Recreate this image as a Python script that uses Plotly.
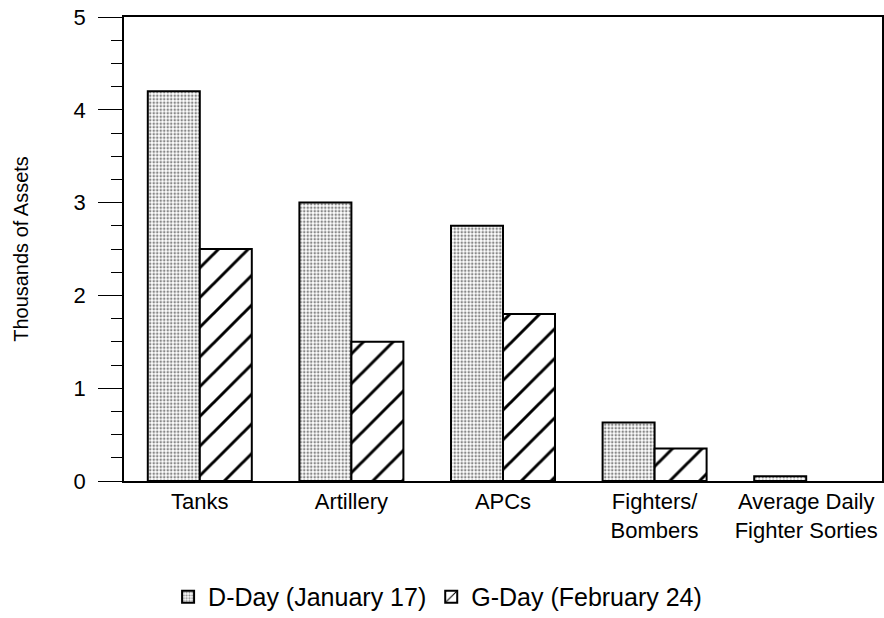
import plotly.graph_objects as go

categories = ["Tanks", "Artillery", "APCs", "Fighters/<br>Bombers", "Average Daily<br>Fighter Sorties"]
dday_values = [4.2, 3.0, 2.75, 0.63, 0.05]
gday_values = [2.5, 1.5, 1.8, 0.35, 0.0]
series_names = ["D-Day (January 17)", "G-Day (February 24)"]
y_ticks = [0, 1, 2, 3, 4, 5]

FONT = "Liberation Sans, Arial, Helvetica, sans-serif"

fig = go.Figure()
fig.add_trace(go.Bar(
    x=categories, y=dday_values, name=series_names[0],
    marker=dict(color="white", line=dict(color="black", width=2),
                pattern=dict(shape=".", fgcolor="#111", bgcolor="white", size=3.5, solidity=0.42)),
))
fig.add_trace(go.Bar(
    x=categories, y=gday_values, name=series_names[1],
    marker=dict(color="white",
                line=dict(color="black", width=[2 if v > 0 else 0 for v in gday_values]),
                pattern=dict(shape="/", fgcolor="black", fgopacity=1, bgcolor="white", size=21, solidity=0.14)),
))

fig.update_layout(
    width=884, height=618,
    margin=dict(l=124, r=2, t=17, b=137, autoexpand=False),
    paper_bgcolor="white", plot_bgcolor="white",
    barmode="group", bargap=0.314, bargroupgap=0,
    font=dict(family=FONT, color="black", size=20),
    showlegend=True,
    legend=dict(orientation="h", xref="container", yref="container",
                x=0.495, xanchor="center", y=0.034, yanchor="middle",
                font=dict(size=25), itemwidth=30, traceorder="normal"),
)
fig.update_xaxes(
    range=[-0.5, 4.5], showline=True, mirror=True, linecolor="black", linewidth=1.5,
    ticks="", showgrid=False, tickfont=dict(size=22), ticklabelstandoff=0, automargin=False,
    ticklabeloverflow="allow",
)
fig.update_yaxes(
    range=[0, 5], tickvals=y_ticks, showline=True, mirror=True, linecolor="black", linewidth=1.5,
    ticks="outside", ticklen=24, tickwidth=1.2, tickcolor="black",
    minor=dict(dtick=0.25, ticks="outside", ticklen=11, tickwidth=1.2, tickcolor="black", showgrid=False),
    showgrid=False, zeroline=False, tickfont=dict(size=22), ticklabelstandoff=8,
    ticklabeloverflow="allow",
    title=dict(text="Thousands of Assets", font=dict(size=20), standoff=40), automargin=False,
)

fig.write_html("out.html", config={"displayModeBar": False},
               post_script="document.body.style.margin='0';")
